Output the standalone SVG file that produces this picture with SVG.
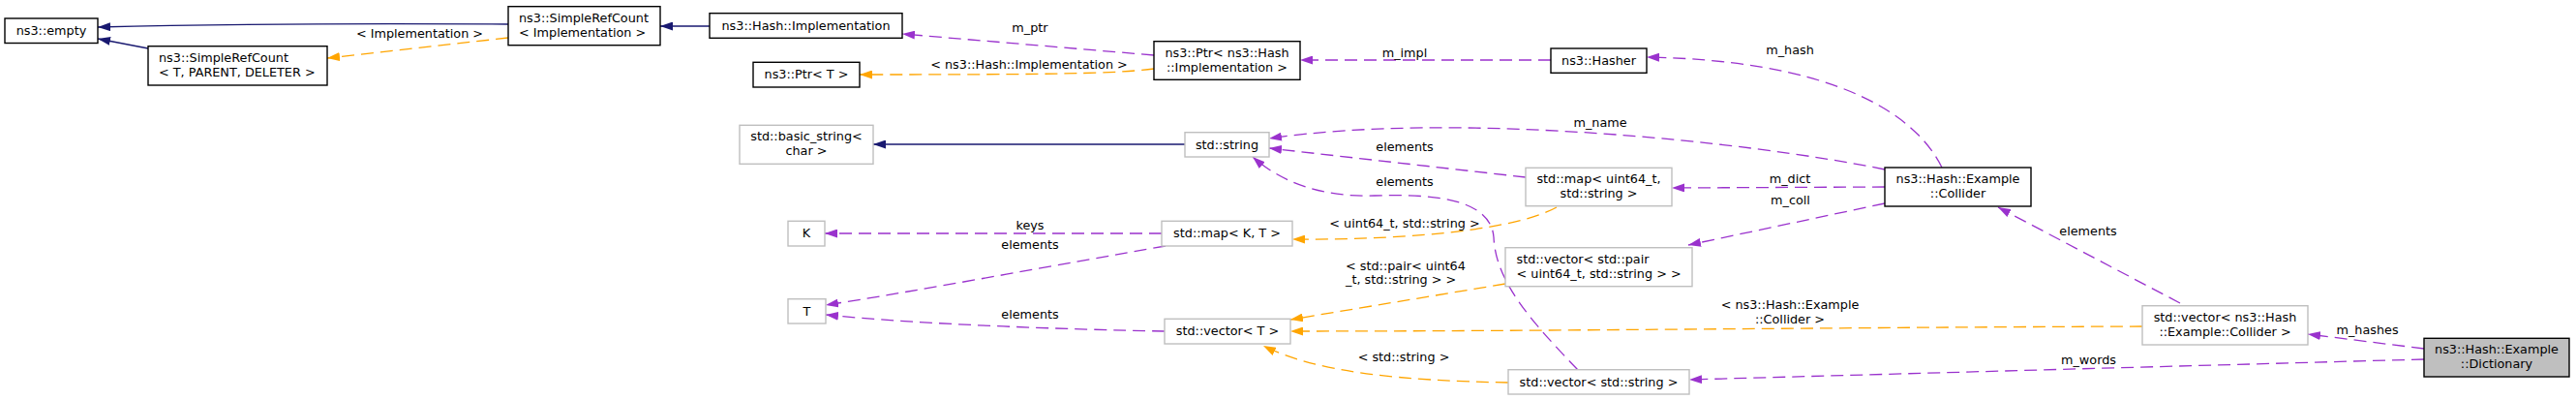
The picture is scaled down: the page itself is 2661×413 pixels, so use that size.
<svg xmlns="http://www.w3.org/2000/svg" width="2661" height="413" viewBox="0 0 2661 413">
<style>
text{font-family:"DejaVu Sans","Liberation Sans",sans-serif;font-size:12.8px;fill:#000}
.c{text-anchor:middle}
.n rect{fill:#fff;stroke:#000;stroke-width:1.4}
.g rect{fill:#fff;stroke:#bfbfbf;stroke-width:1.4}
.s rect{fill:#bfbfbf;stroke:#000;stroke-width:1.4}
.e path{fill:none;stroke-width:1.3}
.inh{stroke:#191970;marker-end:url(#aN)}
.tpl{stroke:#ffa500;stroke-dasharray:13,7;marker-end:url(#aO)}
.use{stroke:#9a32cd;stroke-dasharray:13,7;marker-end:url(#aP)}
</style>
<defs>
<marker id="aN" markerUnits="userSpaceOnUse" markerWidth="13" markerHeight="9" refX="13" refY="4.5" orient="auto"><path d="M0,0L13,4.5L0,9Z" fill="#191970"/></marker>
<marker id="aO" markerUnits="userSpaceOnUse" markerWidth="13" markerHeight="9" refX="13" refY="4.5" orient="auto"><path d="M0,0L13,4.5L0,9Z" fill="#ffa500"/></marker>
<marker id="aP" markerUnits="userSpaceOnUse" markerWidth="13" markerHeight="9" refX="13" refY="4.5" orient="auto"><path d="M0,0L13,4.5L0,9Z" fill="#9a32cd"/></marker>
</defs>
<rect x="0" y="0" width="2661" height="413" fill="#fff"/>
<g id="connectors" class="e">
<path class="inh" d="M525,25 C380,24 220,25 101,28"/>
<path class="inh" d="M153,50 L101,40"/>
<path class="inh" d="M733,27 L682,27"/>
<path class="inh" d="M1224,149 L902,149"/>
<path class="tpl" d="M525,39 L338,60"/>
<path class="tpl" d="M1192,71 C1150,76 1100,77 888,77"/>
<path class="use" d="M1192,57 L932,35"/>
<path class="use" d="M1602,62 L1343,62"/>
<path class="use" d="M2006,173 C1975,110 1880,62 1701,59"/>
<path class="use" d="M1947,175 C1800,145 1500,115 1311,143"/>
<path class="use" d="M1576,183 L1311,153"/>
<path class="use" d="M1630,382 C1580,330 1545,290 1543,245 C1540,205 1480,200 1420,202 C1360,204 1320,185 1294,162"/>
<path class="use" d="M1947,193 L1727,194"/>
<path class="use" d="M1947,210 L1744,253"/>
<path class="use" d="M1200,241 L852,241"/>
<path class="use" d="M1204,254 C1100,272 950,300 853,315"/>
<path class="use" d="M1203,342 C1100,340 950,335 853,325"/>
<path class="tpl" d="M1608,214 C1570,235 1470,248 1335,247"/>
<path class="tpl" d="M1555,293 L1333,330"/>
<path class="tpl" d="M2213,337 C1900,338 1600,342 1333,342"/>
<path class="tpl" d="M1558,395 C1450,393 1360,385 1305,357"/>
<path class="use" d="M2252,313 L2064,214"/>
<path class="use" d="M2504,360 L2384,345"/>
<path class="use" d="M2504,371 L1745,392"/>
<text class="c" x="433.5" y="38.8">&lt; Implementation &gt;</text>
<text class="c" x="1064" y="32.8">m_ptr</text>
<text class="c" x="1063" y="70.5">&lt; ns3::Hash::Implementation &gt;</text>
<text class="c" x="1451" y="58.8">m_impl</text>
<text class="c" x="1849" y="56.2">m_hash</text>
<text class="c" x="1653" y="131.2">m_name</text>
<text class="c" x="1451" y="156.2">elements</text>
<text class="c" x="1451" y="192.2">elements</text>
<text class="c" x="1849" y="188.8">m_dict</text>
<text class="c" x="1849.5" y="211.2">m_coll</text>
<text class="c" x="1064" y="237.2">keys</text>
<text class="c" x="1064" y="256.7">elements</text>
<text class="c" x="1451" y="234.5">&lt; uint64_t, std::string &gt;</text>
<text x="1390" y="278.8">&lt; std::pair&lt; uint64</text>
<text x="1390" y="292.8">_t, std::string &gt; &gt;</text>
<text class="c" x="1849" y="318.5">&lt; ns3::Hash::Example</text>
<text class="c" x="1849" y="333.5">::Collider &gt;</text>
<text class="c" x="1064" y="328.5">elements</text>
<text class="c" x="1450" y="372.5">&lt; std::string &gt;</text>
<text class="c" x="2157" y="243.2">elements</text>
<text class="c" x="2445.5" y="345.2">m_hashes</text>
<text class="c" x="2157.5" y="376.2">m_words</text>
</g>
<g id="n_empty" class="n"><rect x="5" y="19" width="96" height="25.5"/><text class="c" x="53" y="36">ns3::empty</text></g>
<g id="n_src_tpd" class="n"><rect x="153" y="47.7" width="185" height="40.3"/><text x="164" y="63.7">ns3::SimpleRefCount</text><text x="164" y="78.7">&lt; T, PARENT, DELETER &gt;</text></g>
<g id="n_src_impl" class="n"><rect x="525" y="6.7" width="157" height="40"/><text x="536" y="22.7">ns3::SimpleRefCount</text><text x="536" y="37.7">&lt; Implementation &gt;</text></g>
<g id="n_impl" class="n"><rect x="733" y="13.7" width="199" height="25.6"/><text class="c" x="832.5" y="30.7">ns3::Hash::Implementation</text></g>
<g id="n_ptr_t" class="n"><rect x="778" y="64.3" width="110" height="25.7"/><text class="c" x="833" y="81.3">ns3::Ptr&lt; T &gt;</text></g>
<g id="n_ptr_impl" class="n"><rect x="1192" y="42.7" width="151" height="39.6"/><text class="c" x="1267.5" y="58.7">ns3::Ptr&lt; ns3::Hash</text><text class="c" x="1267.5" y="73.7">::Implementation &gt;</text></g>
<g id="n_hasher" class="n"><rect x="1602" y="50" width="99" height="25.3"/><text class="c" x="1651.5" y="67">ns3::Hasher</text></g>
<g id="n_basic_string" class="g"><rect x="764" y="129.3" width="138" height="40"/><text class="c" x="833" y="145.3">std::basic_string&lt;</text><text class="c" x="833" y="160.3">char &gt;</text></g>
<g id="n_string" class="g"><rect x="1224" y="136.7" width="87" height="25.3"/><text class="c" x="1267.5" y="153.7">std::string</text></g>
<g id="n_k" class="g"><rect x="814" y="228.3" width="38" height="25.7"/><text class="c" x="833" y="245.3">K</text></g>
<g id="n_t" class="g"><rect x="814" y="308.7" width="39" height="25.3"/><text class="c" x="833.5" y="325.7">T</text></g>
<g id="n_map_kt" class="g"><rect x="1200" y="228.3" width="135" height="25.7"/><text class="c" x="1267.5" y="245.3">std::map&lt; K, T &gt;</text></g>
<g id="n_map_u" class="g"><rect x="1576" y="173.3" width="151" height="39.4"/><text class="c" x="1651.5" y="189.3">std::map&lt; uint64_t,</text><text class="c" x="1651.5" y="204.3">std::string &gt;</text></g>
<g id="n_vec_pair" class="g"><rect x="1555" y="255.7" width="193" height="40"/><text x="1566.5" y="271.7">std::vector&lt; std::pair</text><text x="1566.5" y="286.7">&lt; uint64_t, std::string &gt; &gt;</text></g>
<g id="n_vec_t" class="g"><rect x="1203" y="329.3" width="130" height="25.7"/><text class="c" x="1268" y="346.3">std::vector&lt; T &gt;</text></g>
<g id="n_vec_str" class="g"><rect x="1558" y="381.7" width="187" height="25.3"/><text class="c" x="1651.5" y="398.7">std::vector&lt; std::string &gt;</text></g>
<g id="n_collider" class="n"><rect x="1947" y="173" width="151" height="40"/><text class="c" x="2022.5" y="189">ns3::Hash::Example</text><text class="c" x="2022.5" y="204">::Collider</text></g>
<g id="n_vec_coll" class="g"><rect x="2213" y="315.7" width="171" height="40.3"/><text class="c" x="2298.5" y="331.7">std::vector&lt; ns3::Hash</text><text class="c" x="2298.5" y="346.7">::Example::Collider &gt;</text></g>
<g id="n_dict" class="s"><rect x="2504" y="349.3" width="150" height="39.7"/><text class="c" x="2579" y="365.3">ns3::Hash::Example</text><text class="c" x="2579" y="380.3">::Dictionary</text></g>
</svg>
